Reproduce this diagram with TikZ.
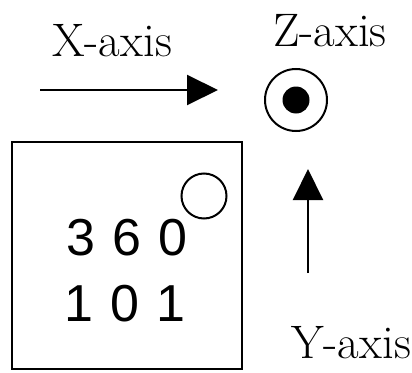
\documentclass[tikz,border=0pt]{standalone}
\usepackage{fontspec}
\newfontfamily\digitfont{Liberation Sans}
\usetikzlibrary{arrows.meta}
\begin{document}
\begin{tikzpicture}[x=1pt,y=-1pt,
  axislabel/.style={font=\fontsize{47}{50}\selectfont, inner sep=0pt, anchor=base},
  axisarrow/.style={line width=2pt, -{Triangle[length=31pt,width=30pt]}},
  ring/.style={draw, line width=2pt, circle},
  digits/.style={font=\digitfont\fontsize{52}{66}\selectfont, inner sep=0pt, anchor=base, align=center}]
\useasboundingbox (0,0) rectangle (412,372);
% X axis
\coordinate (xs) at (40,90);
\coordinate (xe) at (218,90);
\draw[axisarrow] (xs) -- (xe);
\node[axislabel] (xl) at (112,56) {X-axis};
% Z axis
\node[axislabel] (zl) at (330,46) {Z-axis};
\node[ring, minimum size=62pt, inner sep=0pt] (zc) at (296,100) {};
\node[circle, fill=black, minimum size=27pt, inner sep=0pt] (zd) at (zc.center) {};
% Y axis
\coordinate (ys) at (308,273);
\coordinate (ye) at (308,169);
\draw[axisarrow] (ys) -- (ye);
\node[axislabel] (yl) at (351,358) {Y-axis};
% box
\node[draw, line width=2pt, minimum width=230pt, minimum height=227pt, inner sep=0pt] (box) at (127,255.5) {};
\node[ring, minimum size=45pt, inner sep=0pt] (sc) at (204,196) {};
\node[digits] (d1) at (127,255) {3\kern0.05em\ 6\kern0.05em\ 0};
\node[digits] (d2) at (125,321) {1\kern0.05em\ 0\kern0.05em\ 1};
\end{tikzpicture}
\end{document}
